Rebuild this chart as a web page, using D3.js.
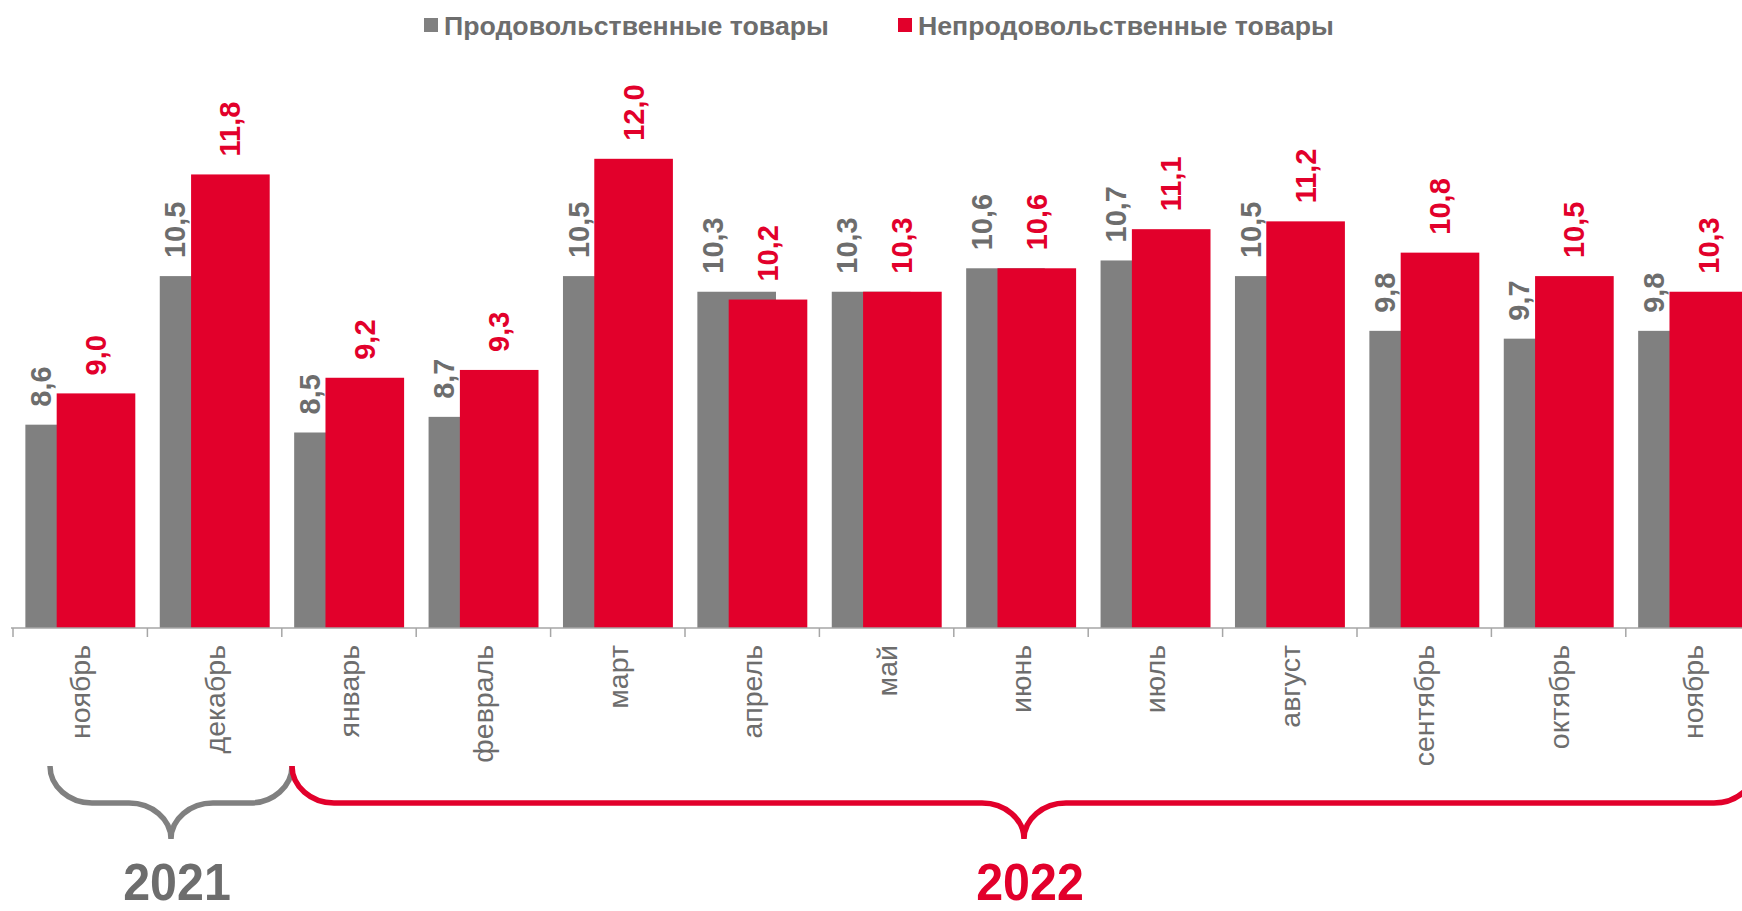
<!DOCTYPE html>
<html lang="ru">
<head>
<meta charset="utf-8">
<script src="https://cdn.jsdelivr.net/npm/d3@7"></script>
<style>
    html, body { margin: 0; padding: 0; background: #ffffff; }
    svg { display: block; font-family: 'Liberation Sans', Arial, sans-serif; }
</style>
</head>
<body>
<svg id="chart" width="1742" height="911"></svg>
<script>
// Chart data
const months = ['ноябрь', 'декабрь', 'январь', 'февраль', 'март', 'апрель', 'май',
    'июнь', 'июль', 'август', 'сентябрь', 'октябрь', 'ноябрь'];
const foodValues = [8.6, 10.5, 8.5, 8.7, 10.5, 10.3, 10.3, 10.6, 10.7, 10.5, 9.8, 9.7, 9.8];
const nonFoodValues = [9.0, 11.8, 9.2, 9.3, 12.0, 10.2, 10.3, 10.6, 11.1, 11.2, 10.8, 10.5, 10.3];
const seriesNames = ['Продовольственные товары', 'Непродовольственные товары'];
const years = [
    { label: '2021', first: 0, last: 1 },
    { label: '2022', first: 2, last: 12 }
];

const GRAY = '#808080';
const RED = '#e2002b';
const TEXT_GRAY = '#6d6d6d';

const svg = d3.select('#chart');

// Scales
const x = d3.scaleBand()
    .domain(d3.range(months.length))
    .range([13, 13 + 134.4 * months.length])
    .padding(0);

const y = d3.scaleLinear()
    .domain([6, 13])
    .range([628, 628 - 7 * 78.2]);

const bw = x.bandwidth();
const grayOff = bw * 0.092;
const redOff = bw * 0.325;
const barW = bw * 0.585;

const fmt = v => d3.format('.1f')(v).replace('.', ',');

// Bars (grey first, red overlaps it)
const groups = svg.append('g').selectAll('g')
    .data(months.map((m, i) => ({ i, m, food: foodValues[i], nonFood: nonFoodValues[i] })))
    .enter()
    .append('g');

groups.append('rect')
    .attr('x', d => x(d.i) + grayOff)
    .attr('y', d => y(d.food))
    .attr('width', barW)
    .attr('height', d => y(6) - y(d.food))
    .attr('fill', GRAY);

groups.append('rect')
    .attr('x', d => x(d.i) + redOff)
    .attr('y', d => y(d.nonFood))
    .attr('width', barW)
    .attr('height', d => y(6) - y(d.nonFood))
    .attr('fill', RED);

// Value labels, rotated
groups.append('text')
    .attr('transform', d => `translate(${x(d.i) + grayOff + (redOff - grayOff) / 2}, ${y(d.food) - 18}) rotate(-90)`)
    .attr('dominant-baseline', 'central')
    .attr('font-size', '29px')
    .attr('font-weight', 'bold')
    .attr('fill', TEXT_GRAY)
    .text(d => fmt(d.food));

groups.append('text')
    .attr('transform', d => `translate(${x(d.i) + redOff + barW / 2}, ${y(d.nonFood) - 18}) rotate(-90)`)
    .attr('dominant-baseline', 'central')
    .attr('font-size', '29px')
    .attr('font-weight', 'bold')
    .attr('fill', RED)
    .text(d => fmt(d.nonFood));

// Category axis: baseline plus ticks on band boundaries
const axis = svg.append('g').attr('stroke', '#a6a6a6').attr('stroke-width', 1.5);
axis.append('line')
    .attr('x1', x(0) - 2).attr('x2', 1742)
    .attr('y1', y(6)).attr('y2', y(6));
axis.selectAll('.tick')
    .data(d3.range(months.length + 1))
    .enter()
    .append('line')
    .attr('x1', i => x.range()[0] + i * bw)
    .attr('x2', i => x.range()[0] + i * bw)
    .attr('y1', y(6))
    .attr('y2', y(6) + 9);

svg.append('g').selectAll('text')
    .data(months)
    .enter()
    .append('text')
    .attr('transform', (m, i) => `translate(${x(i) + bw / 2}, 645) rotate(-90)`)
    .attr('text-anchor', 'end')
    .attr('dominant-baseline', 'central')
    .attr('font-size', '28.5px')
    .attr('fill', TEXT_GRAY)
    .text(m => m);

// Legend
const legendX = [424, 898];
const legend = svg.append('g').selectAll('g')
    .data(seriesNames)
    .enter()
    .append('g')
    .attr('transform', (d, i) => `translate(${legendX[i]}, 0)`);
legend.append('rect')
    .attr('x', 0).attr('y', 18)
    .attr('width', 14).attr('height', 14)
    .attr('fill', (d, i) => i === 0 ? GRAY : RED);
legend.append('text')
    .attr('x', 20).attr('y', 35)
    .attr('font-size', '26.7px')
    .attr('font-weight', 'bold')
    .attr('fill', TEXT_GRAY)
    .text(d => d);

// Curly braces under the month labels
function bracePath(x0, x1, top, mid, bottom) {
    const xc = (x0 + x1) / 2;
    const r = 42;
    const k = 0.55;
    const h1 = mid - top;
    const h2 = bottom - mid;
    return `M${x0},${top}` +
        `C${x0},${top + h1 * k} ${x0 + r * (1 - k)},${mid} ${x0 + r},${mid}` +
        `L${xc - r},${mid}` +
        `C${xc - r * (1 - k)},${mid} ${xc},${mid + h2 * (1 - k)} ${xc},${bottom}` +
        `C${xc},${mid + h2 * (1 - k)} ${xc + r * (1 - k)},${mid} ${xc + r},${mid}` +
        `L${x1 - r},${mid}` +
        `C${x1 - r * (1 - k)},${mid} ${x1},${top + h1 * k} ${x1},${top}`;
}

const braceSpans = [[50, 292], [292, 1756]];
const yearCenters = [177, 1030];

svg.append('g').selectAll('path')
    .data(years)
    .enter()
    .append('path')
    .attr('d', (d, i) => bracePath(braceSpans[i][0], braceSpans[i][1], 766, 803, 839))
    .attr('fill', 'none')
    .attr('stroke', (d, i) => i === 0 ? GRAY : RED)
    .attr('stroke-width', 5.5);

svg.append('g').selectAll('text')
    .data(years)
    .enter()
    .append('text')
    .attr('transform', (d, i) => `translate(${yearCenters[i]}, 900) scale(0.93, 1)`)
    .attr('text-anchor', 'middle')
    .attr('font-size', '52px')
    .attr('font-weight', 'bold')
    .attr('fill', (d, i) => i === 0 ? TEXT_GRAY : RED)
    .text(d => d.label);
</script>
</body>
</html>
